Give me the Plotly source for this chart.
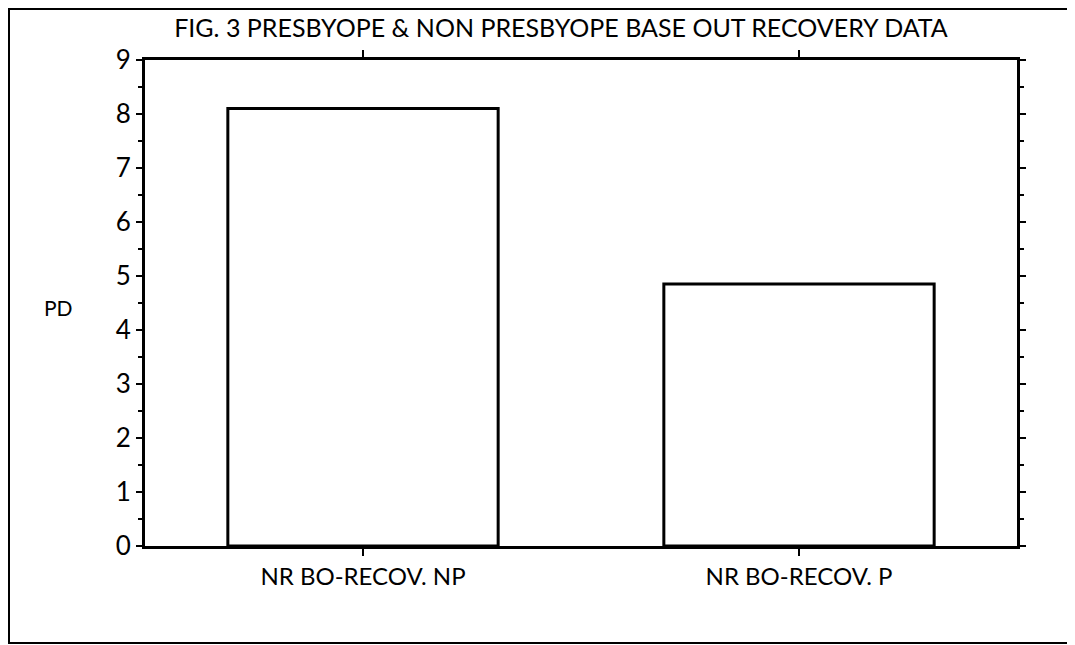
import plotly.graph_objects as go

categories = ["NR BO-RECOV. NP", "NR BO-RECOV. P"]
values = [8.1, 4.85]
y_ticks = [0, 1, 2, 3, 4, 5, 6, 7, 8, 9]
title_text = "FIG. 3 PRESBYOPE & NON PRESBYOPE BASE OUT RECOVERY DATA"
y_label = "PD"

# page has an 8px body margin; figure coordinates = page coordinates - 8
OFF = 8
W, H = 1075 - OFF, 645 - OFF
L, T = 145 - OFF, 60 - OFF
R = W - (1017 - OFF)
B = H - (546 - OFF)
pw, ph = W - L - R, H - T - B

FONT = "Lato"

fig = go.Figure()
fig.add_trace(go.Bar(
    x=categories, y=values, width=0.62,
    marker=dict(color="white", line=dict(color="black", width=3)),
    showlegend=False,
))

def px_x(p):
    return (p - OFF - L) / pw

def px_y(p):
    return (H - B - (p - OFF)) / ph

fig.update_layout(
    width=W, height=H,
    margin=dict(l=L, r=R, t=T, b=B),
    paper_bgcolor="white", plot_bgcolor="white",
    font=dict(family=FONT, color="black", size=24),
    title=dict(text=title_text, x=(561 - OFF) / W, xanchor="center", xref="container",
               y=1 - (28 - OFF) / H, yanchor="middle", yref="container",
               font=dict(family=FONT, size=25, color="black")),
    xaxis=dict(
        range=[-0.5, 1.5], showline=True, linecolor="black", linewidth=3,
        mirror="ticks", ticks="outside", ticklen=7, tickwidth=2, tickcolor="black",
        showgrid=False, zeroline=False, tickfont=dict(size=24, family=FONT),
    ),
    yaxis=dict(
        range=[0, 9], tickvals=y_ticks, showline=True, linecolor="black", linewidth=3,
        mirror="ticks", ticks="outside", ticklen=6, tickwidth=2, tickcolor="black",
        showgrid=False, zeroline=False, tickfont=dict(size=26, family=FONT),
        minor=dict(dtick=0.5, ticks="outside", ticklen=4, tickwidth=2, tickcolor="black", showgrid=False),
    ),
)

fig.add_annotation(text=y_label, x=px_x(58), y=px_y(307), xref="paper", yref="paper",
                   showarrow=False, font=dict(size=21, family=FONT), xanchor="center", yanchor="middle")

fig.add_shape(type="rect", xref="paper", yref="paper",
              x0=px_x(9), x1=px_x(1073), y0=px_y(643), y1=px_y(9),
              line=dict(color="black", width=2), fillcolor="rgba(0,0,0,0)", layer="below")

fig.write_html("out.html")
